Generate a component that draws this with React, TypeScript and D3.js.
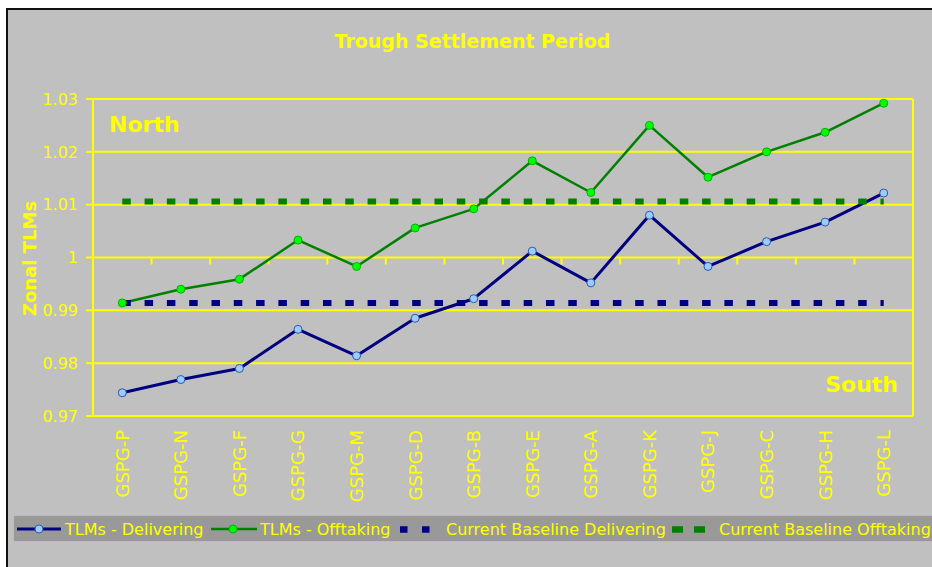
import React from "react";
import * as d3 from "d3";

const categories = ["GSPG-P","GSPG-N","GSPG-F","GSPG-G","GSPG-M","GSPG-D","GSPG-B","GSPG-E","GSPG-A","GSPG-K","GSPG-J","GSPG-C","GSPG-H","GSPG-L"];
const delivering = [0.9744,0.9769,0.9790,0.9864,0.9814,0.9885,0.9922,1.0012,0.9952,1.0080,0.9983,1.0030,1.0067,1.0122];
const offtaking = [0.9914,0.9940,0.9959,1.0033,0.9983,1.0056,1.0092,1.0183,1.0123,1.0250,1.0152,1.0200,1.0237,1.0292];
const baselineDelivering = [0.9914,0.9914,0.9914,0.9914,0.9914,0.9914,0.9914,0.9914,0.9914,0.9914,0.9914,0.9914,0.9914,0.9914];
const baselineOfftaking = [1.0106,1.0106,1.0106,1.0106,1.0106,1.0106,1.0106,1.0106,1.0106,1.0106,1.0106,1.0106,1.0106,1.0106];
const yTicks = [0.97,0.98,0.99,1,1.01,1.02,1.03];
const yTickLabels = ["0.97","0.98","0.99","1","1.01","1.02","1.03"];
const title = "Trough Settlement Period";
const yTitle = "Zonal TLMs";
const seriesNames = ["TLMs - Delivering","TLMs - Offtaking","Current Baseline Delivering","Current Baseline Offtaking"];

const W = 932, H = 567;
const plot = { left: 93, right: 913, top: 99, bottom: 416 };
const YELLOW = "#ffff00";
const NAVY = "#000080";
const GREEN = "#008000";
const FONT = "'DejaVu Sans', Verdana, sans-serif";

export default function App() {
  const x = d3.scaleBand<string>().domain(categories).range([plot.left, plot.right]).padding(0);
  const cx = (c: string) => (x(c) as number) + x.bandwidth() / 2;
  const y = d3.scaleLinear().domain([0.97, 1.03]).range([plot.bottom, plot.top]);
  const line = d3.line<number>().x((_, i) => cx(categories[i])).y((d) => y(d));
  const boundaries = d3.range(categories.length + 1).map((i) => plot.left + i * x.bandwidth());

  return (
    <svg width={W} height={H} style={{ position: "absolute", left: 0, top: 0, display: "block" }} fontFamily={FONT}>
      <rect x={0} y={0} width={W} height={H} fill="#ffffff" />
      <rect x={7} y={9} width={W} height={H} fill="#c0c0c0" />
      <line x1={6} x2={W} y1={9} y2={9} stroke="#111" strokeWidth={2} />
      <line x1={7} x2={7} y1={9} y2={H} stroke="#111" strokeWidth={2} />

      <text x={472.5} y={47.5} textAnchor="middle" fill={YELLOW} fontWeight="bold" fontSize={19}>{title}</text>

      {/* gridlines */}
      {yTicks.map((t) => (
        <line key={"g" + t} x1={plot.left} x2={plot.right} y1={y(t)} y2={y(t)} stroke={YELLOW} strokeWidth={2} />
      ))}
      <line x1={plot.left} x2={plot.left} y1={plot.top} y2={plot.bottom} stroke={YELLOW} strokeWidth={2} />
      <line x1={plot.right} x2={plot.right} y1={plot.top} y2={plot.bottom} stroke={YELLOW} strokeWidth={2} />
      {yTicks.map((t) => (
        <line key={"yt" + t} x1={plot.left - 7} x2={plot.left} y1={y(t)} y2={y(t)} stroke={YELLOW} strokeWidth={2} />
      ))}
      {boundaries.map((b, i) => (
        <line key={"xt" + i} x1={b} x2={b} y1={y(1)} y2={y(1) + 7} stroke={YELLOW} strokeWidth={2} />
      ))}

      {/* y tick labels */}
      {yTicks.map((t, i) => (
        <text key={"yl" + t} x={78} y={y(t)} dy="0.36em" textAnchor="end" fill={YELLOW} fontSize={16}>{yTickLabels[i]}</text>
      ))}
      <text transform={`translate(30,${(plot.top + plot.bottom) / 2 + 1}) rotate(-90)`} textAnchor="middle" dy="0.36em" fill={YELLOW} fontWeight="bold" fontSize={18}>{yTitle}</text>

      {/* x labels */}
      {categories.map((c) => (
        <text key={"xl" + c} transform={`translate(${cx(c)},430) rotate(-90)`} textAnchor="end" dy="0.36em" fill={YELLOW} fontSize={18}>{c}</text>
      ))}

      <text x={109} y={132} fill={YELLOW} fontWeight="bold" fontSize={22}>North</text>
      <text x={898} y={392} textAnchor="end" fill={YELLOW} fontWeight="bold" fontSize={22}>South</text>

      {/* series lines */}
      <path d={line(delivering) || ""} fill="none" stroke={NAVY} strokeWidth={3} strokeLinejoin="round" />
      <path d={line(offtaking) || ""} fill="none" stroke={GREEN} strokeWidth={2.5} strokeLinejoin="round" />
      <path d={line(baselineDelivering) || ""} fill="none" stroke={NAVY} strokeWidth={6} strokeDasharray="8.5 13.8" />
      <path d={line(baselineOfftaking) || ""} fill="none" stroke={GREEN} strokeWidth={6} strokeDasharray="8.5 13.8" />
      {delivering.map((v, i) => (
        <circle key={"dm" + i} cx={cx(categories[i])} cy={y(v)} r={4} fill="#99ccff" stroke="#3355aa" strokeWidth={1} />
      ))}
      {offtaking.map((v, i) => (
        <circle key={"om" + i} cx={cx(categories[i])} cy={y(v)} r={4} fill="#00ff00" stroke="#00b000" strokeWidth={1} />
      ))}

      {/* legend */}
      <rect x={13.5} y={515.5} width={940} height={26} fill="#999999" stroke="#c8c860" strokeWidth={1} />
      <line x1={17} x2={61} y1={529} y2={529} stroke={NAVY} strokeWidth={3} />
      <circle cx={39} cy={529} r={4} fill="#99ccff" stroke="#3355aa" strokeWidth={1} />
      <text x={65} y={535} fill={YELLOW} fontSize={16}>{seriesNames[0]}</text>
      <line x1={211} x2={257} y1={529} y2={529} stroke={GREEN} strokeWidth={2.5} />
      <circle cx={233} cy={529} r={4} fill="#00ff00" stroke="#00b000" strokeWidth={1} />
      <text x={260} y={535} fill={YELLOW} fontSize={16}>{seriesNames[1]}</text>
      <line x1={400} x2={430} y1={529.5} y2={529.5} stroke={NAVY} strokeWidth={6.5} strokeDasharray="7.5 14.5" />
      <text x={446} y={535} fill={YELLOW} fontSize={16}>{seriesNames[2]}</text>
      <line x1={672} x2={705} y1={529.5} y2={529.5} stroke={GREEN} strokeWidth={6.5} strokeDasharray="11 11" />
      <text x={719} y={535} fill={YELLOW} fontSize={16}>{seriesNames[3]}</text>
    </svg>
  );
}
